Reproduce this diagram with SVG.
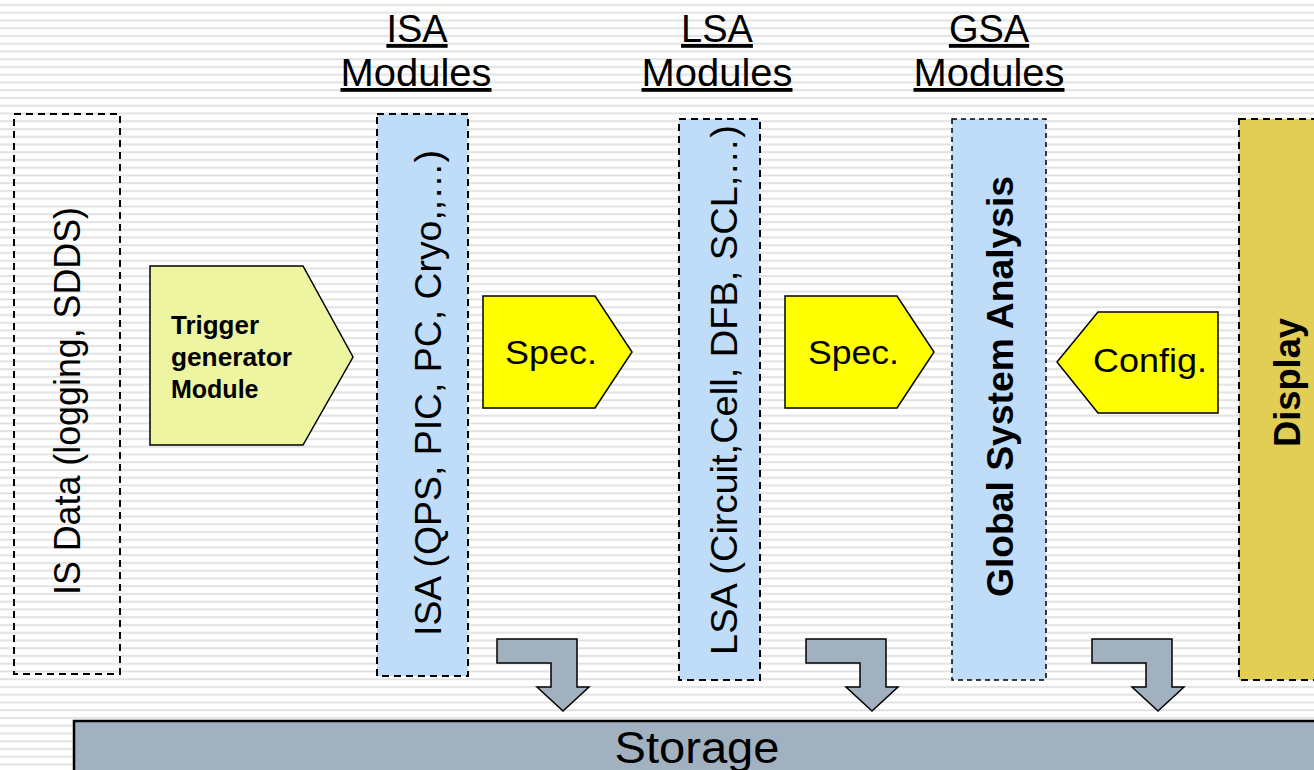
<svg xmlns="http://www.w3.org/2000/svg" width="1314" height="770" viewBox="0 0 1314 770">
<defs>
<pattern id="stripes" x="0" y="0" width="20" height="7.75" patternUnits="userSpaceOnUse">
<rect x="0" y="4" width="20" height="2" fill="#e2e2e2"/>
</pattern>
<polygon id="bentArrow" points="497,639 577,639 577,687 589,687 563,711 537,687 551,687 551,663 497,663"/>
</defs>
<style>
text{font-family:"Liberation Sans",Arial,sans-serif;fill:#000}
.col{stroke:#000;stroke-width:2;stroke-dasharray:7 5}
.thin{stroke:#000;stroke-width:1.5;stroke-dasharray:5 4}
.pent{stroke:#000;stroke-width:1.5}
.hdr{font-size:38px;text-anchor:middle;text-decoration:underline}
.vt{font-size:37px;text-anchor:middle}
.vb{font-size:37px;font-weight:bold;text-anchor:middle}
.big{font-size:33px}
.arrow{fill:#a2b1c0;stroke:#000;stroke-width:1.5}
</style>
<rect width="1314" height="770" fill="#ffffff"/>
<rect width="1314" height="770" fill="url(#stripes)"/>

<g id="headers">
<text class="hdr" x="417" y="42">ISA</text>
<text class="hdr" x="416" y="86" textLength="151" lengthAdjust="spacingAndGlyphs">Modules</text>
<text class="hdr" x="717" y="42">LSA</text>
<text class="hdr" x="717" y="86" textLength="151" lengthAdjust="spacingAndGlyphs">Modules</text>
<text class="hdr" x="989" y="42">GSA</text>
<text class="hdr" x="989" y="86" textLength="151" lengthAdjust="spacingAndGlyphs">Modules</text>
</g>

<g id="is-data">
<rect class="col" x="14" y="114" width="106" height="560" fill="none"/>
<text class="vt" transform="translate(80,401) rotate(-90)" textLength="388" lengthAdjust="spacingAndGlyphs">IS Data (logging, SDDS)</text>
</g>

<g id="trigger">
<polygon class="pent" points="150,266 303,266 353,357 303,445 150,445" fill="#eef5a0"/>
<text x="171" y="334" font-size="25" font-weight="bold" textLength="88" lengthAdjust="spacingAndGlyphs">Trigger</text>
<text x="171" y="366" font-size="25" font-weight="bold" textLength="121" lengthAdjust="spacingAndGlyphs">generator</text>
<text x="171" y="398" font-size="25" font-weight="bold">Module</text>
</g>

<g id="isa">
<rect class="col" x="377" y="114" width="91" height="562" fill="#bfdcf8"/>
<text class="vt" transform="translate(441,393) rotate(-90)" textLength="486" lengthAdjust="spacingAndGlyphs">ISA (QPS, PIC, PC, Cryo,,…)</text>
</g>

<g id="spec1">
<polygon class="pent" points="483,296 595,296 632,352 595,408 483,408" fill="#ffff00"/>
<text class="big" x="505" y="364" textLength="92" lengthAdjust="spacingAndGlyphs">Spec.</text>
</g>

<g id="lsa">
<rect class="col" x="679" y="119" width="81" height="561" fill="#bfdcf8"/>
<text class="vt" transform="translate(737,390) rotate(-90)" textLength="530" lengthAdjust="spacingAndGlyphs">LSA (Circuit,Cell, DFB, SCL,…)</text>
</g>

<g id="spec2">
<polygon class="pent" points="785,296 897,296 934,352 897,408 785,408" fill="#ffff00"/>
<text class="big" x="808" y="364" textLength="91" lengthAdjust="spacingAndGlyphs">Spec.</text>
</g>

<g id="gsa">
<rect class="thin" x="952" y="119" width="94" height="561" fill="#bfdcf8"/>
<text class="vb" transform="translate(1013,386.5) rotate(-90)" textLength="421" lengthAdjust="spacingAndGlyphs">Global System Analysis</text>
</g>

<g id="config">
<polygon class="pent" points="1057,362 1098,312 1218,312 1218,413 1098,413" fill="#ffff00"/>
<text class="big" x="1093" y="372" font-size="34" textLength="114" lengthAdjust="spacingAndGlyphs">Config.</text>
</g>

<g id="display">
<rect class="col" x="1239" y="119" width="90" height="561" fill="#e2cd55"/>
<text class="vb" transform="translate(1300,382.5) rotate(-90)" textLength="129" lengthAdjust="spacingAndGlyphs">Display</text>
</g>

<g id="storage">
<rect x="74" y="721" width="1260" height="70" fill="#a2b1c0" stroke="#000" stroke-width="2.5"/>
<text x="697" y="763" font-size="44" text-anchor="middle" textLength="165" lengthAdjust="spacingAndGlyphs">Storage</text>
</g>

<g id="connectors">
<use href="#bentArrow" class="arrow"/>
<use href="#bentArrow" class="arrow" transform="translate(309,0)"/>
<use href="#bentArrow" class="arrow" transform="translate(595,0)"/>
</g>
</svg>
